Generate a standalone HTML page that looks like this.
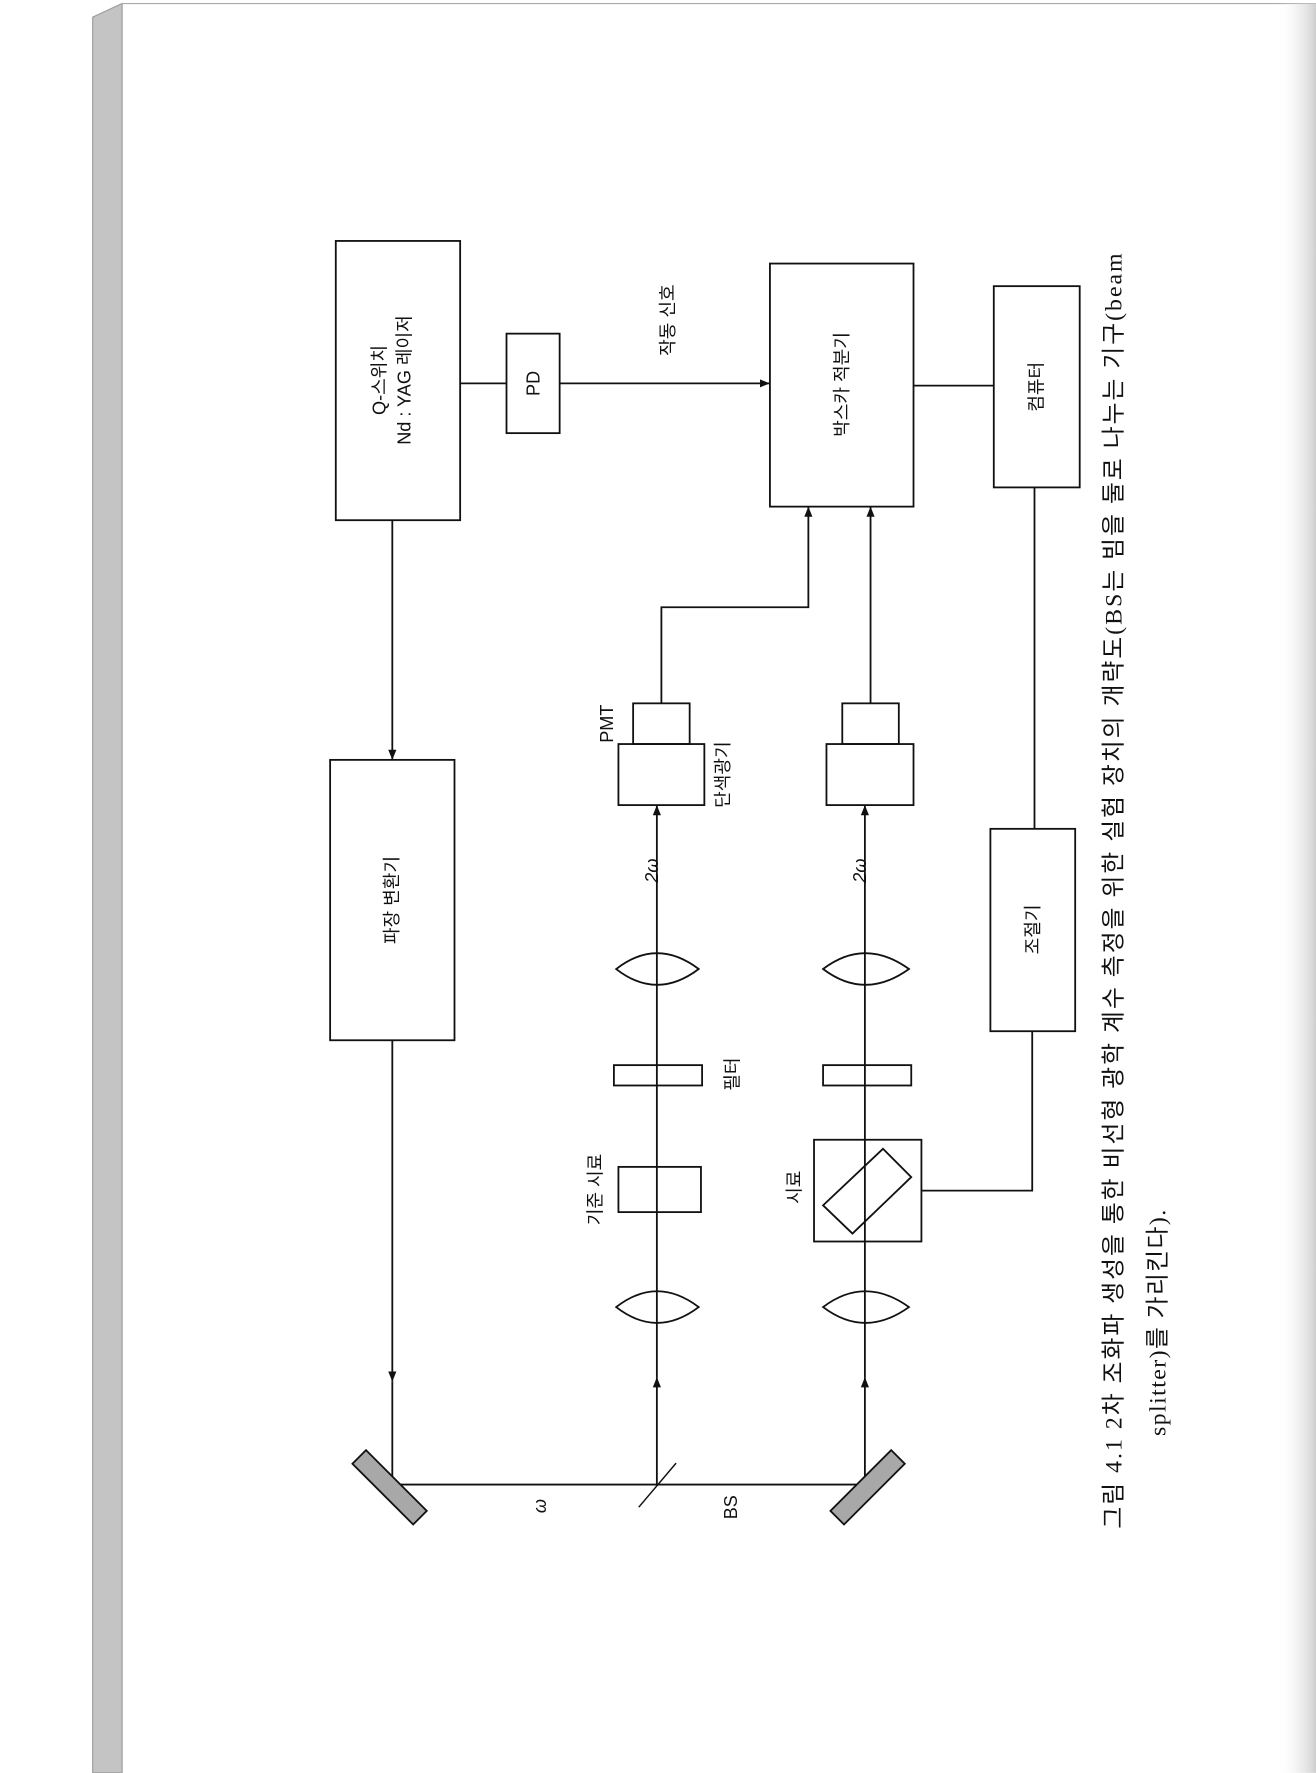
<!DOCTYPE html>
<html><head><meta charset="utf-8"><style>
html,body{margin:0;padding:0;background:#fff;}
svg{display:block;}
text{font-family:"Liberation Sans","Noto Sans CJK KR","NanumGothic",sans-serif;fill:#111;}
.cap{font-family:"Liberation Serif","Noto Sans CJK KR",serif;font-size:21px;}
</style></head><body>
<svg width="1316" height="1773" viewBox="0 0 1164 1568" xmlns="http://www.w3.org/2000/svg">
<defs>
<marker id="a" viewBox="0 0 10 10" refX="10" refY="5" markerWidth="9" markerHeight="9" orient="auto-start-reverse" markerUnits="userSpaceOnUse"><path d="M0,1 L10,5 L0,9 z" fill="#111"/></marker>
<linearGradient id="sh" x1="0" x2="1"><stop offset="0" stop-color="#fff" stop-opacity="0"/><stop offset="1" stop-color="#cfcfcf"/></linearGradient>
</defs>
<rect width="1164" height="1568" fill="#fff"/>
<polygon points="82,15 108,3 108,1568 82,1568" fill="#c4c4c4" stroke="#999"/>
<line x1="108" y1="3" x2="1164" y2="3" stroke="#aaa"/>
<rect x="1130" y="3" width="34" height="1565" fill="url(#sh)"/>
<g fill="none" stroke="#111" stroke-width="1.6">
<rect x="297" y="213" width="110" height="247"/>
<rect x="448" y="295" width="47" height="88"/>
<rect x="681" y="233" width="127" height="215"/>
<rect x="879" y="253" width="76" height="178"/>
<rect x="292" y="672" width="110" height="248"/>
<rect x="876" y="733" width="75" height="179"/>
<line x1="407" y1="339" x2="448" y2="339"/>
<line x1="495" y1="339" x2="681" y2="339" marker-end="url(#a)"/>
<line x1="808" y1="341" x2="879" y2="341"/>
<line x1="347" y1="460" x2="347" y2="672" marker-end="url(#a)"/>
<line x1="347" y1="920" x2="347" y2="1222" marker-end="url(#a)"/>
<line x1="347" y1="1222" x2="347" y2="1313"/>
<line x1="347" y1="1313" x2="765" y2="1313"/>
<line x1="565" y1="1333" x2="598" y2="1294" stroke-width="1.3"/>
<line x1="581" y1="1313" x2="581" y2="1218" marker-end="url(#a)"/>
<line x1="581" y1="1218" x2="581" y2="712" marker-end="url(#a)"/>
<path d="M545,1156 Q581,1128 618,1156 Q581,1184 545,1156 z"/>
<rect x="547" y="1032" width="73" height="40"/>
<rect x="543" y="942" width="78" height="18"/>
<path d="M545,857 Q581,829 618,857 Q581,885 545,857 z"/>
<rect x="547" y="658" width="76" height="54"/>
<rect x="560" y="622" width="50" height="36"/>
<polyline points="585,622 585,537 715,537 715,448" marker-end="url(#a)"/>
<line x1="765" y1="1313" x2="765" y2="1218" marker-end="url(#a)"/>
<line x1="765" y1="1218" x2="765" y2="712" marker-end="url(#a)"/>
<path d="M728,1156 Q765,1128 804,1156 Q765,1184 728,1156 z"/>
<rect x="720" y="1008" width="95" height="90"/>
<polygon points="781,1016 806,1041 754,1091 728,1066"/>
<rect x="728" y="942" width="78" height="18"/>
<path d="M728,857 Q765,829 804,857 Q765,885 728,857 z"/>
<rect x="731" y="658" width="77" height="54"/>
<rect x="745" y="622" width="50" height="36"/>
<line x1="770" y1="622" x2="770" y2="448" marker-end="url(#a)"/>
<line x1="915" y1="431" x2="915" y2="733"/>
<polyline points="913,912 913,1053 815,1053"/>
</g>
<rect x="302" y="1305" width="76" height="17" transform="rotate(45 340 1320)" fill="#a8a8a8" stroke="#111" stroke-width="1.6"/>
<rect x="734" y="1305" width="76" height="17" transform="rotate(-45 772 1320)" fill="#a8a8a8" stroke="#111" stroke-width="1.6"/>
<g font-size="16" text-anchor="middle">
<text transform="translate(347,336) rotate(-90)" y="-6">Q-스위치</text>
<text transform="translate(347,336) rotate(-90)" y="16">Nd : YAG 레이저</text>
<text transform="translate(477,339) rotate(-90)">PD</text>
<text transform="translate(596,283) rotate(-90)">작동 신호</text>
<text transform="translate(750,340) rotate(-90)">박스카 적분기</text>
<text transform="translate(922,342) rotate(-90)">컴퓨터</text>
<text transform="translate(352,796) rotate(-90)">파장 변환기</text>
<text transform="translate(919,822) rotate(-90)">조절기</text>
<text transform="translate(542,640) rotate(-90)">PMT</text>
<text transform="translate(645,685) rotate(-90)">단색광기</text>
<text transform="translate(582,770) rotate(-90)" font-style="italic">2ω</text>
<text transform="translate(766,770) rotate(-90)" font-style="italic">2ω</text>
<text transform="translate(653,950) rotate(-90)">필터</text>
<text transform="translate(532,1052) rotate(-90)">기준 시료</text>
<text transform="translate(708,1050) rotate(-90)">시료</text>
<text transform="translate(483,1332) rotate(-90)" font-style="italic">ω</text>
<text transform="translate(652,1333) rotate(-90)">BS</text>
</g>
<text class="cap" transform="translate(992,1352) rotate(-90)" textLength="1128" lengthAdjust="spacing">그림 4.1  2차 조화파 생성을 통한 비선형 광학 계수 측정을 위한 실험 장치의 개략도(BS는 빔을 둘로 나누는 기구(beam</text>
<text class="cap" transform="translate(1031,1270) rotate(-90)" textLength="200" lengthAdjust="spacing">splitter)를 가리킨다).</text>
</svg>
</body></html>
